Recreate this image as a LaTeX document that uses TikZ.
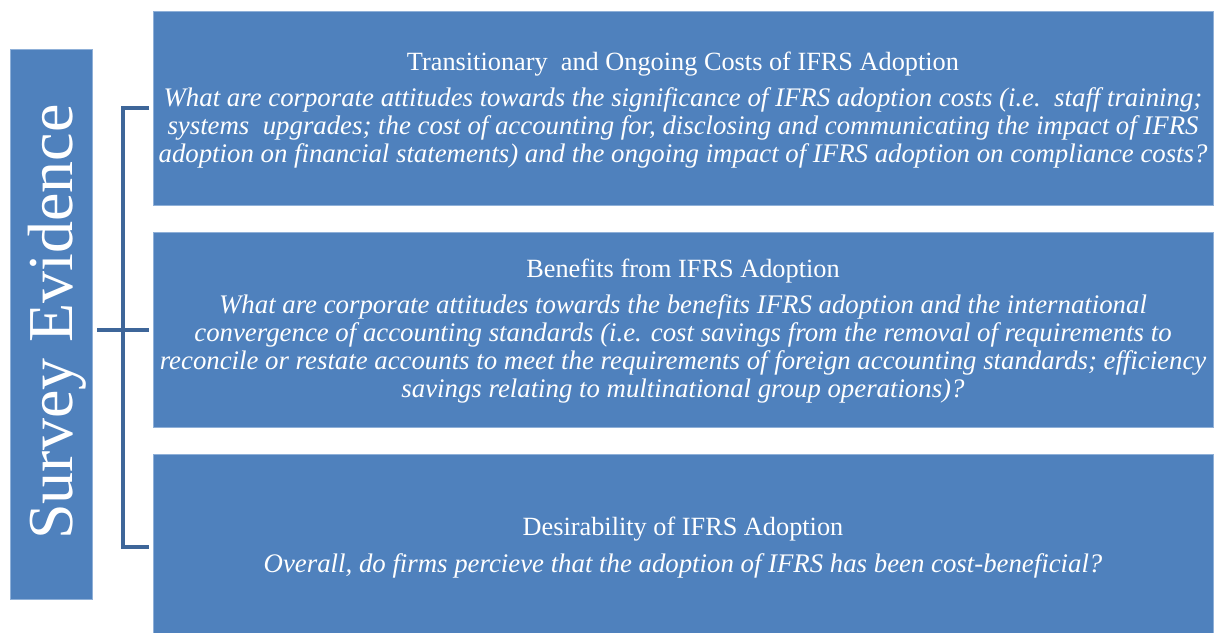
\documentclass[tikz,border=0pt]{standalone}
\usepackage{fontspec}
\setmainfont{Liberation Serif}
\definecolor{boxblue}{HTML}{4F81BD}
\definecolor{boxedge}{HTML}{8FB0D8}
\definecolor{brk}{HTML}{3E6699}
\newcommand{\ttl}[1]{{\fontsize{26.3}{28}\selectfont\upshape #1}}
\begin{document}
\begin{tikzpicture}[x=1pt,y=-1pt,
  box/.style={draw=boxedge, line width=0.6pt, fill=boxblue, inner sep=0pt,
    minimum width=1060pt},
  boxtext/.style={text=white, inner sep=0pt, align=center,
    font=\fontsize{26.8}{28}\selectfont\itshape},
  sidebox/.style={draw=boxedge, line width=0.6pt, fill=boxblue, inner sep=0pt,
    minimum width=82pt, minimum height=550pt},
  sidetext/.style={text=white, inner sep=0pt, rotate=90, anchor=base,
    font=\fontsize{64}{70}\selectfont},
  bracket/.style={draw=brk, line width=3.6pt}]
\useasboundingbox (0,0) rectangle (1217,632);
\fill[white] (0,0) rectangle (1217,632);
\node[sidebox] (side) at (51,324) {};
\node[sidetext] (sidelabel) at (72,322) {Survey Evidence};
\node[box, minimum height=194pt] (b1) at (683,108) {};
\node[boxtext] (b1t) at ([yshift=-2pt]b1.center) {\ttl{Transitionary\ \ and Ongoing Costs of IFRS Adoption}\\[8pt]
What are corporate attitudes towards the significance of IFRS adoption costs (i.e.\ \ staff training;\\
systems\ \ upgrades; the cost of accounting for, disclosing and communicating the impact of IFRS\\
adoption on financial statements) and the ongoing impact of IFRS adoption on compliance costs?};
\node[box, minimum height=195pt] (b2) at (683,329.5) {};
\node[boxtext] (b2t) at ([yshift=-1.5pt]b2.center) {\ttl{Benefits from IFRS Adoption}\\[8pt]
What are corporate attitudes towards the benefits IFRS adoption and the international\\
convergence of accounting standards (i.e. cost savings from the removal of requirements to\\
reconcile or restate accounts to meet the requirements of foreign accounting standards; efficiency\\
savings relating to multinational group operations)?};
\node[box, minimum height=188pt] (b3) at (683,548) {};
\node[boxtext] (b3t) at (b3.center) {\ttl{Desirability of IFRS Adoption}\\[9pt]
Overall, do firms percieve that the adoption of IFRS has been cost-beneficial?};
\coordinate (t1) at (149,108);
\coordinate (t2) at (149,330);
\coordinate (t3) at (149,547);
\coordinate (tl) at (97,330);
\draw[bracket] (t1) -- (123,108) -- (123,547) -- (t3);
\draw[bracket] (tl) -- (t2);
\end{tikzpicture}
\end{document}
